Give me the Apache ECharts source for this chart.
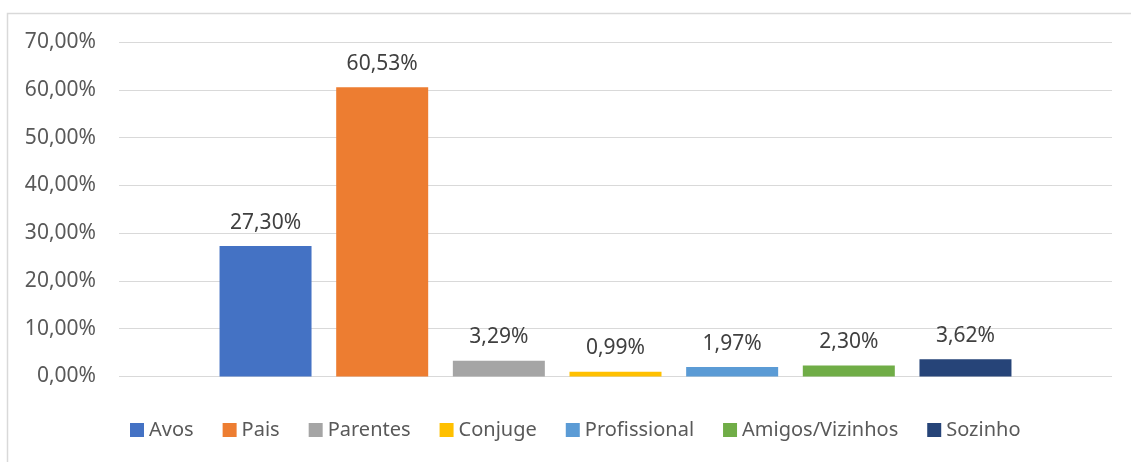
<!DOCTYPE html>
<html>
<head>
<meta charset="utf-8">
<script src="https://cdn.jsdelivr.net/npm/echarts@6/dist/echarts.min.js"></script>
<style>
  html, body { margin: 0; padding: 0; background: #fff; }
  #chart { width: 1131px; height: 462px; }
</style>
</head>
<body>
<div id="chart"></div>
<script>
const names = ["Avos", "Pais", "Parentes", "Conjuge", "Profissional", "Amigos/Vizinhos", "Sozinho"];
const values = [27.30, 60.53, 3.29, 0.99, 1.97, 2.30, 3.62];
const colors = ["#4472C4", "#ED7D31", "#A5A5A5", "#FFC000", "#5B9BD5", "#70AD47", "#264478"];
const yTicks = [0, 10, 20, 30, 40, 50, 60, 70];

const fmt = v => v.toFixed(2).replace(".", ",") + "%";
const font = "'Noto Sans', 'Open Sans', sans-serif";

const chart = echarts.init(document.getElementById("chart"));

chart.setOption({
    backgroundColor: "#fff",
    animation: false,
    textStyle: { fontFamily: font },
    graphic: [
        {
            type: "rect",
            shape: { x: 7.5, y: 13.5, width: 1200, height: 500 },
            style: { fill: "none", stroke: "#d9d9d9", lineWidth: 1.5 },
            silent: true,
        },
    ],
    legend: {
        left: 125,
        top: 415,
        icon: "rect",
        itemWidth: 14,
        itemHeight: 14,
        itemGap: 29,
        textStyle: { color: "#595959", fontSize: 20, fontFamily: font },
        data: names,
    },
    grid: {
        left: 119,
        right: 19,
        top: 42,
        height: 334.5,
    },
    xAxis: {
        type: "category",
        data: [""],
        axisLine: { show: false },
        axisTick: { show: false },
        axisLabel: { show: false },
    },
    yAxis: {
        type: "value",
        min: yTicks[0],
        max: yTicks[yTicks.length - 1],
        interval: 10,
        axisLine: { show: false },
        axisTick: { show: false },
        axisLabel: {
            color: "#595959",
            fontSize: 21,
            fontFamily: font,
            margin: 23,
            formatter: v => fmt(v),
        },
        splitLine: { lineStyle: { color: "#d9d9d9", width: 1.2 } },
    },
    series: names.map((n, i) => ({
        name: n,
        type: "bar",
        barWidth: 92,
        barGap: "26.8%",
        itemStyle: { color: colors[i] },
        label: {
            show: true,
            position: "top",
            distance: 13,
            color: "#404040",
            fontSize: 21,
            fontFamily: font,
            formatter: p => fmt(p.value),
        },
        data: [values[i]],
    })),
});
</script>
</body>
</html>
